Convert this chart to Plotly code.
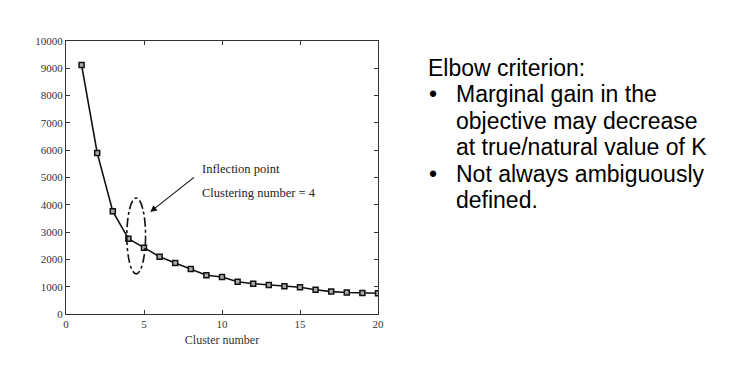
import plotly.graph_objects as go

clusters = list(range(1, 21))
objective = [9120, 5900, 3760, 2760, 2430, 2100, 1870, 1650, 1420, 1355,
             1180, 1110, 1060, 1020, 980, 890, 820, 790, 770, 760]
x_ticks = [0, 5, 10, 15, 20]
y_ticks = [0, 1000, 2000, 3000, 4000, 5000, 6000, 7000, 8000, 9000, 10000]
y_tick_labels = [str(v) for v in y_ticks]
ellipse_box = dict(x0=3.9, x1=5.1, y0=1470, y1=4250)
arrow_tail = (8.3, 5050)
arrow_head = (5.4, 3740)
notes = ["Inflection point", "Clustering number = 4"]
title_line = "Elbow criterion:"
bullets = [["Marginal gain in the", "objective may decrease", "at true/natural value of K"],
           ["Not always ambiguously", "defined."]]

serif = "Liberation Serif"
sans = "Liberation Sans"

fig = go.Figure()
fig.add_trace(go.Scatter(
    x=clusters, y=objective, mode="lines+markers",
    line=dict(color="#111111", width=1.6),
    marker=dict(symbol="square", size=5, color="#aaaaaa",
                line=dict(color="#111111", width=1.5)),
    showlegend=False, hoverinfo="x+y"))

fig.add_shape(type="circle", xref="x", yref="y",
              line=dict(color="#111111", width=1.6, dash="dashdot"),
              **ellipse_box)

fig.add_annotation(x=arrow_head[0], y=arrow_head[1], ax=arrow_tail[0], ay=arrow_tail[1],
                   xref="x", yref="y", axref="x", ayref="y", text="",
                   showarrow=True, arrowhead=2, arrowsize=1.2, arrowwidth=1.1,
                   arrowcolor="#111111")

for i, t in enumerate(notes):
    fig.add_annotation(x=8.6, y=5300 - i * 880, xref="x", yref="y", text=t,
                       showarrow=False, xanchor="left", yanchor="middle",
                       font=dict(family=serif, size=12.5, color="#222222"))

# right side text block (paper coords relative to plot area)
pw = 312.0
def px(p):
    return (p - 66) / pw

ph = 273.0
def py(p):
    return (314 - p) / ph

y0 = 68
step = 26.45
fig.add_annotation(x=px(426), y=py(y0), xref="paper", yref="paper", text=title_line,
                   showarrow=False, xanchor="left", yanchor="middle",
                   font=dict(family=sans, size=23, color="#000000"))
row = 1
for b in bullets:
    fig.add_annotation(x=px(427), y=py(y0 + step * row), xref="paper", yref="paper",
                       text="•", showarrow=False, xanchor="left", yanchor="middle",
                       font=dict(family=sans, size=23, color="#000000"))
    for ln in b:
        fig.add_annotation(x=px(454), y=py(y0 + step * row), xref="paper", yref="paper",
                           text=ln, showarrow=False, xanchor="left", yanchor="middle",
                           font=dict(family=sans, size=23, color="#000000"))
        row += 1

axis_common = dict(showgrid=False, zeroline=False, showline=True, linecolor="#333333",
                   linewidth=1, mirror="ticks", ticks="inside", ticklen=4,
                   tickcolor="#333333",
                   tickfont=dict(family=serif, size=11, color="#333333"))

fig.update_xaxes(range=[0, 20], tickvals=x_ticks,
                 title=dict(text="Cluster number", standoff=6,
                            font=dict(family=serif, size=12, color="#333333")),
                 **axis_common)
fig.update_yaxes(range=[0, 10000], tickvals=y_ticks, ticktext=y_tick_labels,
                 **axis_common)

fig.update_layout(width=744, height=390,
                  margin=dict(l=58, r=374, t=33, b=84),
                  plot_bgcolor="white", paper_bgcolor="white")

fig.write_html("out.html")
